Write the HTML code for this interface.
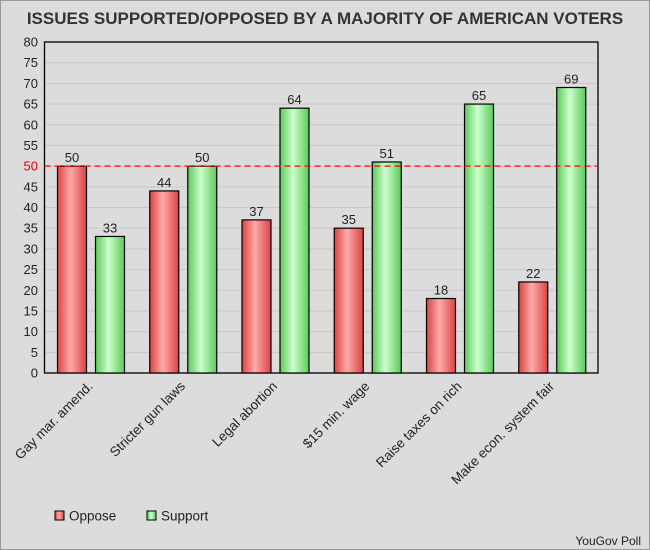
<!DOCTYPE html>
<html><head><meta charset="utf-8"><style>
body{margin:0;background:#dcdcdc;font-family:"Liberation Sans","DejaVu Sans",sans-serif}
#wrap{position:relative;width:650px;height:550px;box-sizing:border-box;border:1px solid #999;background:#dcdcdc}
</style></head><body>
<div id="wrap">
<svg id="chart" width="650" height="550" style="position:absolute;left:-1px;top:-1px">
<defs>
<linearGradient id="gr" x1="0" x2="1"><stop offset="0" stop-color="#d94444"/><stop offset="0.45" stop-color="#ffaaaa"/><stop offset="1" stop-color="#d94444"/></linearGradient>
<linearGradient id="gg" x1="0" x2="1"><stop offset="0" stop-color="#5cc95c"/><stop offset="0.45" stop-color="#ccffcc"/><stop offset="1" stop-color="#5cc95c"/></linearGradient>
</defs>
</svg>
</div>
<script>
const categories=["Gay mar. amend.","Stricter gun laws","Legal abortion","$15 min. wage","Raise taxes on rich","Make econ. system fair"];
const oppose=[50,44,37,35,18,22];
const support=[33,50,64,51,65,69];
const yTicks=[0,5,10,15,20,25,30,35,40,45,50,55,60,65,70,75,80];
const refLine=50;
const svg=document.getElementById('chart');
const NS='http://www.w3.org/2000/svg';
const L=44.5,R=598,T=42,B=373,YMAX=80;
const y=v=>B-(v/YMAX)*(B-T);
const gw=(R-L)/categories.length;
function mk(t,a,txt){const e=document.createElementNS(NS,t);for(const k in a)e.setAttribute(k,a[k]);if(txt!=null)e.textContent=txt;svg.appendChild(e);return e;}
let e=mk('text',{x:325,y:24,'text-anchor':'middle','font-size':'17','font-weight':'bold',fill:'#333'},'ISSUES SUPPORTED/OPPOSED BY A MAJORITY OF AMERICAN VOTERS');


yTicks.forEach(v=>{
 if(v>0&&v<YMAX){let g=mk('line',{x1:L,x2:R,y1:y(v),y2:y(v),stroke:'#c8c8c8','stroke-width':1});
 
 }
 let t=mk('text',{x:38,y:y(v)+4.5,'text-anchor':'end','font-size':'13',fill:v===refLine?'#e00':'#222'},v);
 
 
});
e=mk('rect',{x:L,y:T,width:R-L,height:B-T,fill:'none',stroke:'#000','stroke-width':1.3});


categories.forEach((c,i)=>{
 const gx=L+i*gw;
 [[oppose[i],'url(#gr)',gx+13,'bar-oppose'],[support[i],'url(#gg)',gx+51,'bar-support']].forEach(([v,f,x,n])=>{
  let r=mk('rect',{x:x,y:y(v),width:29,height:B-y(v),fill:f,stroke:'#000','stroke-width':1.2});
  
  
  let t=mk('text',{x:x+14.5,y:y(v)-4,'text-anchor':'middle','font-size':'13',fill:'#222'},v);
  
  
 });
 const cx=gx+gw/2+3;
 let t=mk('text',{x:cx,y:387,'text-anchor':'end','font-size':'13.5',fill:'#222',transform:`rotate(-45 ${cx} 387)`},c);
 
 
});
e=mk('line',{x1:L,x2:R,y1:y(refLine),y2:y(refLine),stroke:'#f00','stroke-width':1.2,'stroke-dasharray':'6,4'});


[['url(#gr)',55,'Oppose','legend-oppose'],['url(#gg)',147,'Support','legend-support']].forEach(([f,x,l,n])=>{
 let g=mk('rect',{x:x,y:511,width:9,height:9,fill:f,stroke:'#000','stroke-width':1});
 
 
 let t=mk('text',{x:x+14,y:520.5,'font-size':'13.5',fill:'#222'},l);
 
 
});
e=mk('text',{x:641,y:545,'text-anchor':'end','font-size':'12',fill:'#222'},'YouGov Poll');


</script>
</body></html>
